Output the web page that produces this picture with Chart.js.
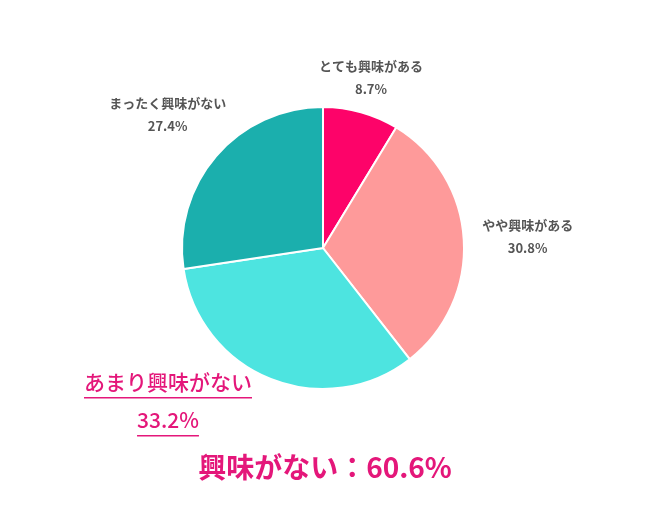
<!DOCTYPE html>
<html>
<head>
<meta charset="utf-8">
<script src="https://cdn.jsdelivr.net/npm/chart.js@4"></script>
<style>
  html, body { margin: 0; padding: 0; background: #fff; }
  #wrap { width: 650px; height: 507px; position: relative; }
</style>
</head>
<body>
<div id="wrap"><canvas id="pieChart"></canvas></div>
<script>
const categories = ["とても興味がある", "やや興味がある", "あまり興味がない", "まったく興味がない"];
const values = [8.7, 30.8, 33.2, 27.4];
const colors = ["#fd0369", "#fe9a9a", "#4de4e0", "#1bafad"];
const summaryText = "興味がない：60.6%";

// label placement: distance from centre and small nudges
const labelDist = [178, 205, 210, 205];
const labelNudge = [[0, 0], [0, 0], [-10, 0], [0, 0]];

const labelPlugin = {
  id: "pieLabels",
  afterDraw(chart) {
    const ctx = chart.ctx;
    const meta = chart.getDatasetMeta(0);
    ctx.save();
    ctx.textAlign = "center";
    ctx.textBaseline = "middle";
    meta.data.forEach((arc, i) => {
      const mid = (arc.startAngle + arc.endAngle) / 2;
      let x = arc.x + Math.cos(mid) * labelDist[i] + labelNudge[i][0];
      let y = arc.y + Math.sin(mid) * labelDist[i] + labelNudge[i][1];
      if (i === 2) {
        x = arc.x - 155; y = arc.y + 152;
        ctx.fillStyle = "#e4177a";
        ctx.font = "500 21px 'Noto Sans CJK JP'";
        ctx.fillText(categories[i], x, y - 18);
        const w1 = ctx.measureText(categories[i]).width;
        ctx.fillRect(x - w1 / 2, y - 3, w1, 1.5);
        ctx.fillText(values[i].toFixed(1) + "%", x, y + 20);
        const w2 = ctx.measureText(values[i].toFixed(1) + "%").width;
        ctx.fillRect(x - w2 / 2, y + 35, w2, 1.5);
      } else {
        ctx.fillStyle = "#555";
        ctx.font = "bold 13px 'Noto Sans CJK JP'";
        ctx.fillText(categories[i], x, y - 11);
        ctx.fillText(values[i].toFixed(1) + "%", x, y + 12);
      }
    });
    ctx.fillStyle = "#e4177a";
    ctx.font = "bold 28px 'Noto Sans CJK JP'";
    ctx.fillText(summaryText, 325, 467);
    ctx.restore();
  }
};

new Chart(document.getElementById("pieChart").getContext("2d"), {
  type: "pie",
  data: {
    labels: categories,
    datasets: [{
      data: values,
      backgroundColor: colors,
      borderColor: "#fff",
      borderWidth: 2
    }]
  },
  options: {
    responsive: true,
    maintainAspectRatio: false,
    animation: false,
    layout: { padding: { top: 106, bottom: 117, left: 181, right: 185 } },
    plugins: { legend: { display: false }, tooltip: { enabled: false } }
  },
  plugins: [labelPlugin]
});
</script>
</body>
</html>
